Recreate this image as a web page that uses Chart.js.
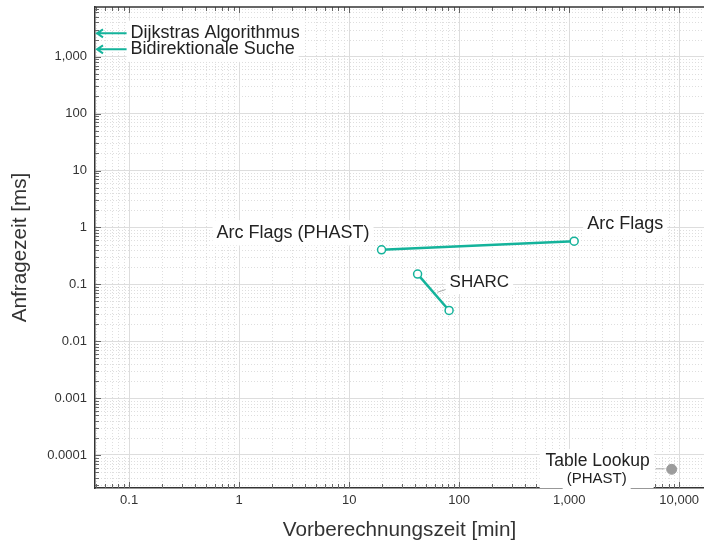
<!DOCTYPE html>
<html lang="de">
<head>
<meta charset="utf-8">
<title>Vorberechnungszeit vs. Anfragezeit</title>
<script src="https://cdn.jsdelivr.net/npm/chart.js@4.4.1/dist/chart.umd.min.js"></script>
<style>
  html, body { margin: 0; padding: 0; background: #fff; }
  #grafico { display: block; }
</style>
</head>
<body>
<canvas id="grafico" width="704" height="546"></canvas>
<script>
// Werte (beide Achsen logarithmisch)
const arcFlagsNamen = ["Arc Flags (PHAST)", "Arc Flags"];
const arcFlagsVorb = [19.7, 1110];       // min
const arcFlagsAnfrage = [0.404, 0.574];  // ms

const sharcVorb = [41.9, 81];
const sharcAnfrage = [0.151, 0.0347];

const tableLookupVorb = [8540];
const tableLookupAnfrage = [0.000056];

// ohne Vorberechnung -> liegen links ausserhalb der x-Achse
const ohneVorbNamen = ["Dijkstras Algorithmus", "Bidirektionale Suche"];
const ohneVorbAnfrage = [2580, 1350];

const xTicks = [0.1, 1, 10, 100, 1000, 10000];
const xTickLabels = ["0.1", "1", "10", "100", "1,000", "10,000"];
const yTicks = [0.0001, 0.001, 0.01, 0.1, 1, 10, 100, 1000];
const yTickLabels = ["0.0001", "0.001", "0.01", "0.1", "1", "10", "100", "1,000"];

const TEAL = "#14b39b";
const GRAU = "#9c9c9c";
const SCHRIFT = "'Liberation Sans', Arial, sans-serif";

const paare = (xs, ys) => xs.map((x, i) => ({ x, y: ys[i] }));

function nebenwerte(scale) {
  const werte = [];
  const e0 = Math.floor(Math.log10(scale.min));
  const e1 = Math.ceil(Math.log10(scale.max));
  for (let e = e0; e <= e1; e++) {
    for (let m = 1; m <= 9; m++) {
      const v = m * Math.pow(10, e);
      if (v > scale.min && v < scale.max) werte.push({ v, major: m === 1 });
    }
  }
  return werte;
}

function box(ctx, text, x, y, align, groesse) {
  ctx.font = groesse + "px " + SCHRIFT;
  const w = ctx.measureText(text).width;
  const links = align === "right" ? x - w : align === "center" ? x - w / 2 : x;
  ctx.fillStyle = "#fff";
  ctx.fillRect(links - 4, y - groesse * 0.7, w + 8, groesse * 1.4);
}

function text(ctx, t, x, y, align, groesse) {
  ctx.font = groesse + "px " + SCHRIFT;
  ctx.fillStyle = "#222";
  ctx.textAlign = align;
  ctx.textBaseline = "middle";
  ctx.fillText(t, x, y);
}

function textMitBox(ctx, t, x, y, align, groesse) {
  box(ctx, t, x, y, align, groesse);
  text(ctx, t, x, y, align, groesse);
}

const gitterPlugin = {
  id: "gitter",
  beforeDatasetsDraw(chart) {
    const { ctx, chartArea: a, scales: { x, y } } = chart;
    ctx.save();

    // Nebengitter gepunktet
    ctx.strokeStyle = "#dedede";
    ctx.lineWidth = 1;
    ctx.setLineDash([1, 2]);
    nebenwerte(x).filter(t => !t.major).forEach(t => {
      const px = Math.round(x.getPixelForValue(t.v)) + 0.5;
      ctx.beginPath(); ctx.moveTo(px, a.top); ctx.lineTo(px, a.bottom); ctx.stroke();
    });
    nebenwerte(y).filter(t => !t.major).forEach(t => {
      const py = Math.round(y.getPixelForValue(t.v)) + 0.5;
      ctx.beginPath(); ctx.moveTo(a.left, py); ctx.lineTo(a.right, py); ctx.stroke();
    });
    ctx.setLineDash([]);

    // Striche innen an den Achsen
    ctx.strokeStyle = "#666";
    nebenwerte(x).forEach(t => {
      const px = Math.round(x.getPixelForValue(t.v)) + 0.5;
      const l = t.major ? 6 : 4;
      ctx.beginPath();
      ctx.moveTo(px, a.bottom); ctx.lineTo(px, a.bottom - l);
      ctx.moveTo(px, a.top); ctx.lineTo(px, a.top + l);
      ctx.stroke();
    });
    nebenwerte(y).forEach(t => {
      const py = Math.round(y.getPixelForValue(t.v)) + 0.5;
      const l = t.major ? 6 : 4;
      ctx.beginPath(); ctx.moveTo(a.left, py); ctx.lineTo(a.left + l, py); ctx.stroke();
    });

    // obere Kante
    ctx.strokeStyle = "#333";
    ctx.lineWidth = 1.5;
    ctx.beginPath(); ctx.moveTo(a.left, a.top); ctx.lineTo(a.right, a.top); ctx.stroke();

    // Beschriftungen der Punkte
    const af = chart.getDatasetMeta(0).data;
    textMitBox(ctx, arcFlagsNamen[0], af[0].x - 12, af[0].y - 17, "right", 18);
    textMitBox(ctx, arcFlagsNamen[1], af[1].x + 13, af[1].y - 17, "left", 18);

    const sh = chart.getDatasetMeta(1).data;
    const mx = (sh[0].x + sh[1].x) / 2, my = (sh[0].y + sh[1].y) / 2;
    ctx.strokeStyle = "#aaa"; ctx.lineWidth = 1;
    ctx.beginPath(); ctx.moveTo(mx + 4, my); ctx.lineTo(mx + 13, my - 3); ctx.stroke();
    textMitBox(ctx, "SHARC", sh[0].x + 32, sh[0].y + 8, "left", 17);

    const tl = chart.getDatasetMeta(2).data[0];
    ctx.fillStyle = "#fff";
    ctx.fillRect(tl.x - 132, tl.y - 17, 114, a.bottom - (tl.y - 17));
    textMitBox(ctx, "Table Lookup", tl.x - 74, tl.y - 8, "center", 17.5);
    textMitBox(ctx, "(PHAST)", tl.x - 75, tl.y + 10, "center", 15);
    ctx.strokeStyle = "#aaa"; ctx.lineWidth = 1;
    ctx.beginPath(); ctx.moveTo(tl.x - 16, tl.y - 0.5); ctx.lineTo(tl.x - 7, tl.y - 0.5); ctx.stroke();

    // Pfeile nach links (ohne Vorberechnung)
    const x01 = x.getPixelForValue(xTicks[0]);
    ohneVorbAnfrage.forEach((wert, i) => {
      box(ctx, ohneVorbNamen[i], x01 + 1.5, y.getPixelForValue(wert), "left", 18);
    });
    ohneVorbAnfrage.forEach((wert, i) => {
      const py = y.getPixelForValue(wert);
      text(ctx, ohneVorbNamen[i], x01 + 1.5, py, "left", 18);
      const kopf = a.left + 2, ende = x01 - 2.5;
      ctx.strokeStyle = TEAL; ctx.lineWidth = 2;
      ctx.beginPath();
      ctx.moveTo(ende, py); ctx.lineTo(kopf, py);
      ctx.moveTo(kopf + 6, py - 4); ctx.lineTo(kopf, py); ctx.lineTo(kopf + 6, py + 4);
      ctx.stroke();
    });

    ctx.restore();
  }
};

new Chart(document.getElementById("grafico"), {
  type: "scatter",
  data: {
    datasets: [
      {
        label: "Arc Flags",
        data: paare(arcFlagsVorb, arcFlagsAnfrage),
        showLine: true,
        borderColor: TEAL,
        borderWidth: 2.5,
        pointRadius: 4,
        pointBorderWidth: 1.5,
        pointBackgroundColor: "#fff",
        pointBorderColor: TEAL
      },
      {
        label: "SHARC",
        data: paare(sharcVorb, sharcAnfrage),
        showLine: true,
        borderColor: TEAL,
        borderWidth: 2.5,
        pointRadius: 4,
        pointBorderWidth: 1.5,
        pointBackgroundColor: "#fff",
        pointBorderColor: TEAL
      },
      {
        label: "Table Lookup",
        data: paare(tableLookupVorb, tableLookupAnfrage),
        pointRadius: 5,
        pointBackgroundColor: GRAU,
        pointBorderColor: GRAU
      }
    ]
  },
  options: {
    responsive: false,
    animation: false,
    layout: { autoPadding: false, padding: { top: 7, right: 0, left: 0, bottom: 0 } },
    plugins: { legend: { display: false }, tooltip: { enabled: false } },
    scales: {
      x: {
        type: "logarithmic",
        min: 0.049,
        max: 16800,
        afterBuildTicks: ax => { ax.ticks = xTicks.map(v => ({ value: v })); },
        afterFit: ax => { ax.height = 58; ax.paddingLeft = 0; ax.paddingRight = 0; },
        ticks: {
          callback: (v, i) => xTickLabels[i],
          autoSkip: false,
          maxRotation: 0,
          padding: 5,
          color: "#333",
          font: { family: SCHRIFT, size: 13 }
        },
        grid: { color: "#dddddd", lineWidth: 1, drawTicks: false, tickLength: 0 },
        border: { color: "#333", width: 1.5 },
        title: {
          display: true,
          text: "Vorberechnungszeit [min]",
          color: "#333",
          font: { family: SCHRIFT, size: 20.7 },
          padding: { bottom: 3 }
        }
      },
      y: {
        type: "logarithmic",
        min: 0.0000263,
        max: 7480,
        afterBuildTicks: ax => { ax.ticks = yTicks.map(v => ({ value: v })); },
        afterFit: ax => { ax.width = 95; ax.paddingTop = 0; ax.paddingBottom = 0; },
        ticks: {
          callback: (v, i) => yTickLabels[i],
          autoSkip: false,
          padding: 8,
          color: "#333",
          font: { family: SCHRIFT, size: 13 }
        },
        grid: { color: "#dddddd", lineWidth: 1, drawTicks: false, tickLength: 0 },
        border: { color: "#333", width: 1.5 },
        title: {
          display: true,
          text: "Anfragezeit [ms]",
          color: "#333",
          font: { family: SCHRIFT, size: 20.7 },
          padding: { top: 8 }
        }
      }
    }
  },
  plugins: [gitterPlugin]
});
</script>
</body>
</html>
